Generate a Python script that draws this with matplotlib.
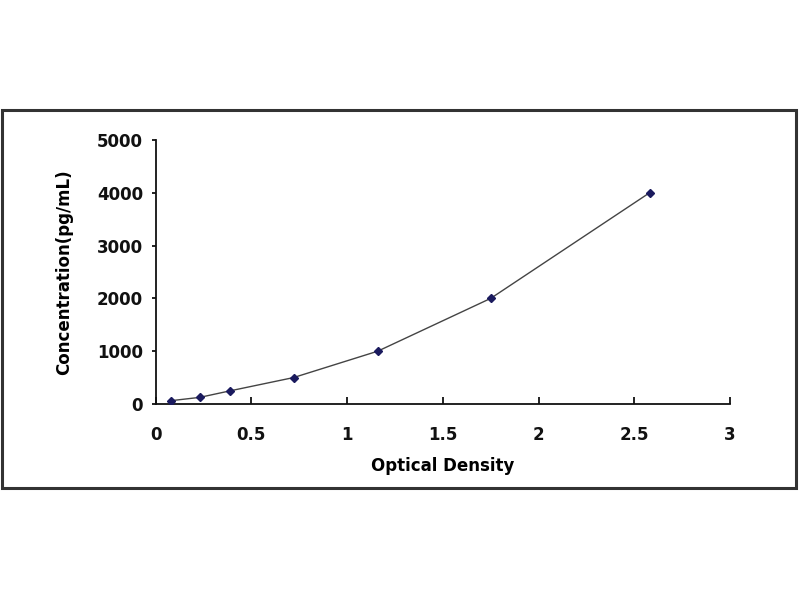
import matplotlib
matplotlib.use("Agg")
import matplotlib.pyplot as plt
from matplotlib.patches import Rectangle

# standard curve data
od = [0.08, 0.23, 0.39, 0.72, 1.16, 1.75, 2.58]
conc = [62.5, 125, 250, 500, 1000, 2000, 4000]

x_ticks = [0, 0.5, 1, 1.5, 2, 2.5, 3]
x_labels = ["0", "0.5", "1", "1.5", "2", "2.5", "3"]
y_ticks = [0, 1000, 2000, 3000, 4000, 5000]

plt.rcParams['font.family'] = ['DejaVu Sans']
plt.rcParams['font.weight'] = 'bold'

fig = plt.figure(figsize=(8, 6), dpi=100)
fig.patch.set_facecolor('white')

# outer frame
fig.patches.append(Rectangle((0.002, 0.186), 0.993, 0.63, transform=fig.transFigure,
                             fill=False, edgecolor='#333333', linewidth=2.2))

ax = fig.add_axes([0.1946, 0.3267, 0.7179, 0.44])

ax.plot(od, conc, color='#444444', linewidth=1.0, zorder=2)
ax.plot(od, conc, linestyle='none', marker='D', markersize=4.5,
        color='#1a1a5e', zorder=3)

ax.set_xlim(0, 3)
ax.set_ylim(0, 5000)
ax.set_xticks(x_ticks)
ax.set_xticklabels(x_labels)
ax.set_yticks(y_ticks)

for side in ['top', 'right']:
    ax.spines[side].set_visible(False)
for side in ['left', 'bottom']:
    ax.spines[side].set_linewidth(1.3)
    ax.spines[side].set_color('#111111')

ax.tick_params(axis='x', direction='in', length=5, width=1.3, pad=15.5,
               labelsize=12, colors='#111111')
ax.tick_params(axis='y', direction='out', length=3, width=1.3, pad=6,
               labelsize=12, colors='#111111')

ax.set_xlabel('Optical Density', fontsize=12, fontweight='bold', labelpad=10)
ax.set_ylabel('Concentration(pg/mL)', fontsize=12, fontweight='bold', labelpad=17)

fig.savefig('out.png', dpi=100, facecolor='white')
